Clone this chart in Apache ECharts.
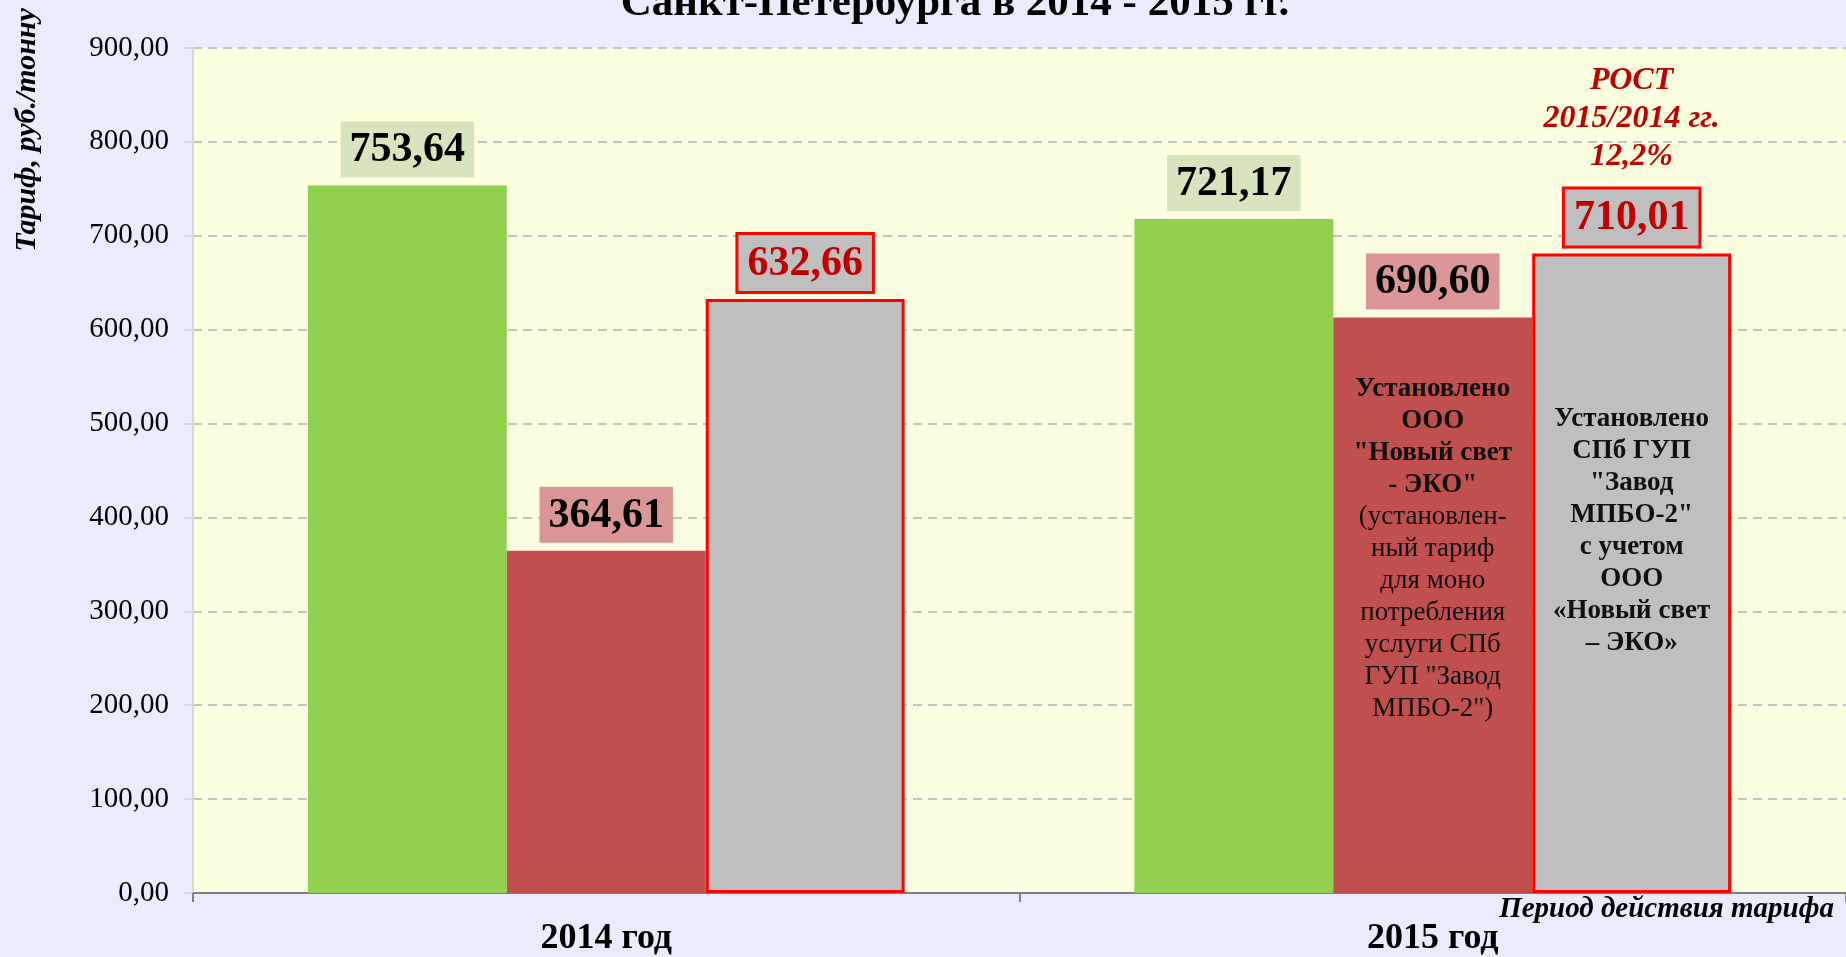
<!DOCTYPE html>
<html>
<head>
<meta charset="utf-8">
<script src="https://cdn.jsdelivr.net/npm/echarts@6/dist/echarts.min.js"></script>
<style>
  html, body { margin: 0; padding: 0; background: #E8ECFD; }
  #chart { width: 1846px; height: 957px; }
</style>
</head>
<body>
<div id="chart"></div>
<script>
const categories = ['2014 год', '2015 год'];
const greenValues = [753.64, 718];
const redValues = [364.61, 613];
const greyValues = [632.66, 681];
// подписи над столбцами
const greenLabels = ['753,64', '721,17'];
const redLabels = ['364,61', '690,60'];
const greyLabels = ['632,66', '710,01'];

const serif = '"Times New Roman", "Liberation Serif", serif';

const chart = echarts.init(document.getElementById('chart'));

function topLabel(texts, bg, color, border) {
    return {
        show: true,
        position: 'top',
        distance: 8,
        formatter: (p) => texts[p.dataIndex],
        fontFamily: serif,
        fontWeight: 'bold',
        fontSize: 42,
        lineHeight: 44,
        color: color,
        backgroundColor: bg,
        borderColor: border || 'transparent',
        borderWidth: border ? 3 : 0,
        padding: [7, 9, 5, 9]
    };
}

const option = {
    backgroundColor: '#E8ECFD',
    animation: false,
    grid: {
        left: 193,
        right: 0,
        top: 48,
        bottom: 62,
        show: true,
        backgroundColor: '#FBFEDF',
        borderWidth: 0
    },
    graphic: [
        {
            type: 'text',
            x: 955, y: 4,
            style: {
                text: 'Санкт-Петербурга в 2014 - 2015 гг.',
                align: 'center', verticalAlign: 'middle',
                font: 'bold 43px ' + serif,
                fill: '#000'
            }
        },
        {
            type: 'text',
            x: 27, y: 130,
            rotation: Math.PI / 2,
            style: {
                text: 'Тариф, руб./тонну',
                align: 'center', verticalAlign: 'middle',
                font: 'italic bold 30px ' + serif,
                fill: '#000'
            }
        },
        {
            type: 'text',
            x: 1834, y: 910,
            style: {
                text: 'Период действия тарифа',
                align: 'right', verticalAlign: 'middle',
                font: 'italic bold 29px ' + serif,
                fill: '#000'
            }
        }
    ],
    xAxis: {
        type: 'category',
        data: categories,
        axisLine: { lineStyle: { color: '#808080', width: 2 } },
        axisTick: { show: true, length: 9, lineStyle: { color: '#808080', width: 2 } },
        axisLabel: {
            margin: 28,
            fontFamily: serif,
            fontWeight: 'bold',
            fontSize: 36,
            color: '#000'
        }
    },
    yAxis: {
        type: 'value',
        min: 0,
        max: 900,
        interval: 100,
        axisLine: { show: true, lineStyle: { color: '#D9D9D9', width: 2 } },
        axisTick: { show: true, length: 9, lineStyle: { color: '#D9D9D9', width: 2 } },
        axisLabel: {
            margin: 24,
            fontFamily: serif,
            fontSize: 29,
            color: '#000',
            formatter: (v) => v.toFixed(2).replace('.', ',')
        },
        splitLine: { lineStyle: { color: '#C4C4C4', width: 2, type: [9, 6] } }
    },
    series: [
        {
            type: 'bar',
            data: greenValues,
            barGap: 0,
            barCategoryGap: '27.8%',
            itemStyle: { color: '#92D050' },
            label: topLabel(greenLabels, '#D7E4BD', '#000')
        },
        {
            type: 'bar',
            data: redValues,
            itemStyle: { color: '#C0504D' },
            label: topLabel(redLabels, '#D99694', '#000'),
            markPoint: {
                silent: true,
                symbol: 'rect',
                symbolSize: 0,
                itemStyle: { color: 'transparent' },
                label: {
                    show: true,
                    position: 'inside',
                    fontFamily: serif,
                    color: '#111',
                    rich: {
                        b: { fontFamily: serif, fontWeight: 'bold', fontSize: 27, lineHeight: 32, color: '#111', align: 'center' },
                        n: { fontFamily: serif, fontSize: 27, lineHeight: 32, color: '#111', align: 'center' }
                    },
                    formatter: [
                        '{b|Установлено}',
                        '{b|ООО}',
                        '{b|"Новый свет}',
                        '{b|- ЭКО"}',
                        '{n|(установлен-}',
                        '{n|ный тариф}',
                        '{n|для моно}',
                        '{n|потребления}',
                        '{n|услуги СПб}',
                        '{n|ГУП "Завод}',
                        '{n|МПБО-2")}'
                    ].join('\n')
                },
                data: [{ coord: [1, 366] }]
            }
        },
        {
            type: 'bar',
            data: greyValues,
            itemStyle: { color: '#BFBFBF', borderColor: '#FF0000', borderWidth: 3 },
            label: topLabel(greyLabels, '#BFBFBF', '#C00000', '#FF0000'),
            markPoint: {
                silent: true,
                symbol: 'rect',
                symbolSize: 0,
                itemStyle: { color: 'transparent' },
                data: [
                    {
                        coord: [1, 385],
                        label: {
                            show: true,
                            position: 'inside',
                            fontFamily: serif,
                            fontWeight: 'bold',
                            fontSize: 27,
                            lineHeight: 32,
                            color: '#111',
                            formatter: 'Установлено\nСПб ГУП\n"Завод\nМПБО-2"\nс учетом\nООО\n«Новый свет\n– ЭКО»'
                        }
                    },
                    {
                        coord: [1, 825],
                        label: {
                            show: true,
                            position: 'inside',
                            fontFamily: serif,
                            fontWeight: 'bold',
                            fontStyle: 'italic',
                            fontSize: 32,
                            lineHeight: 38,
                            color: '#C00000',
                            formatter: 'РОСТ\n2015/2014 гг.\n12,2%'
                        }
                    }
                ]
            }
        }
    ]
};

chart.setOption(option);

window.addEventListener('resize', function () {
    chart.resize();
});
</script>
</body>
</html>
